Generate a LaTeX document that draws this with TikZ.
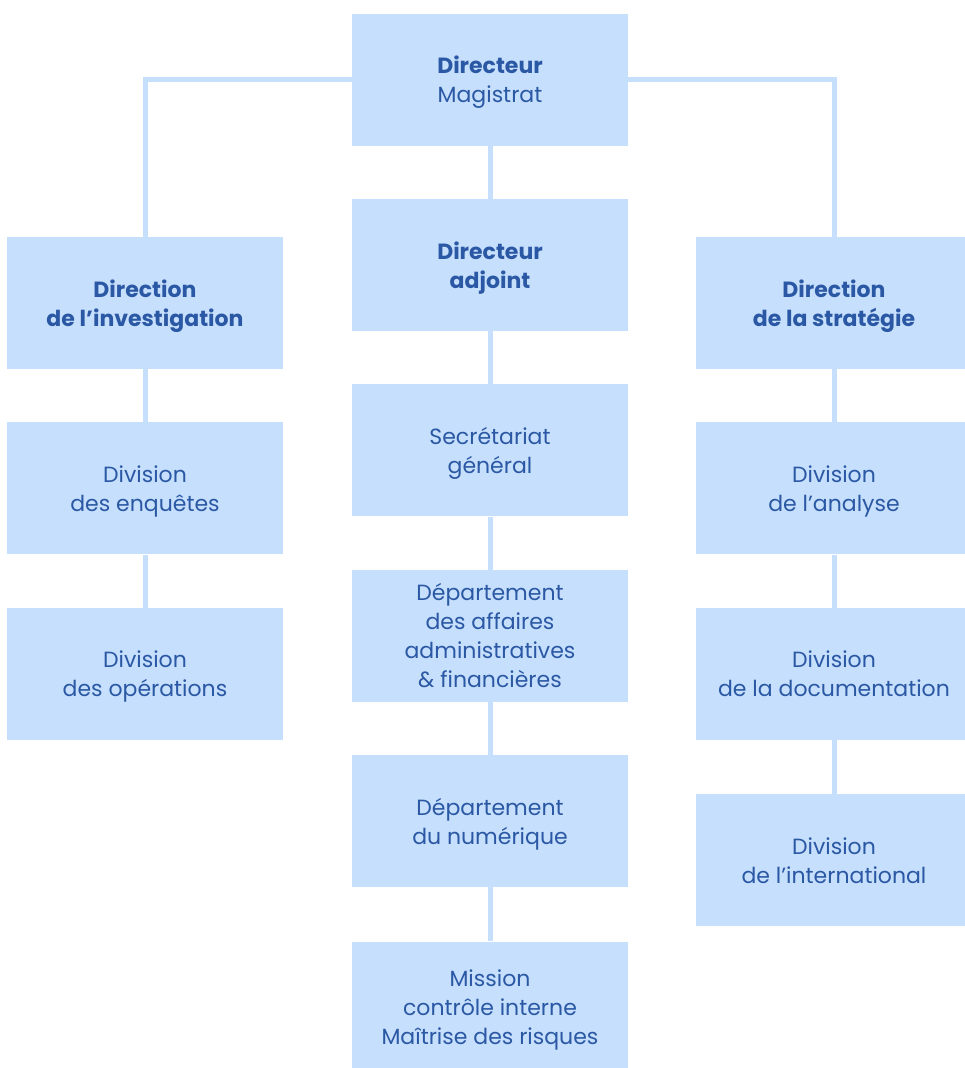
\documentclass[tikz,border=0pt]{standalone}
\usepackage{fontspec}
\setmainfont{Poppins}
\usetikzlibrary{positioning}
\definecolor{boxblue}{HTML}{C6DFFC}
\definecolor{textblue}{HTML}{2B58A4}

\begin{document}
\begin{tikzpicture}[x=1pt, y=-1pt, node distance=53pt,
  box/.style={fill=boxblue, text=textblue, minimum width=276pt, minimum height=132pt, inner sep=0pt, align=center,
    font=\fontsize{22}{29}\selectfont, text depth=-7pt},
  link/.style={draw=boxblue, line width=5pt}]
  \useasboundingbox (0,0) rectangle (964,1068);

  % Colonne centrale: Directeur, adjoint, services
  \node[box] (directeur) at (490,79.5) {\textbf{Directeur}\\Magistrat};
  \node[box, below=of directeur] (adjoint) {\textbf{Directeur}\\\textbf{adjoint}};
  \node[box, below=of adjoint] (secretariat) {Secrétariat\\général};
  \node[box, below=of secretariat] (daaf) {Département\\des affaires\\administratives\\\& financières};
  \node[box, below=of daaf] (numerique) {Département\\du numérique};
  \node[box, below=54pt of numerique] (mission) {Mission\\contrôle interne\\Maîtrise des risques};

  % Direction de l'investigation
  \node[box] (investigation) at (145,303) {\textbf{Direction}\\\textbf{de l’investigation}};
  \node[box, below=of investigation] (enquetes) {Division\\des enquêtes};
  \node[box, below=of enquetes] (operations) {Division\\des opérations};

  % Direction de la stratégie
  \node[box] (strategie) at (834,303) {\textbf{Direction}\\\textbf{de la stratégie}};
  \node[box, below=of strategie] (analyse) {Division\\de l’analyse};
  \node[box, below=of analyse] (documentation) {Division\\de la documentation};
  \node[box, below=54pt of documentation] (international) {Division\\de l’international};

  % Liaisons
  \draw[link] (investigation.north) |- (directeur.west);
  \draw[link] (directeur.east) -| (strategie.north);
  \foreach \a/\b in {directeur/adjoint, adjoint/secretariat, secretariat/daaf, daaf/numerique, numerique/mission,
    investigation/enquetes, enquetes/operations,
    strategie/analyse, analyse/documentation, documentation/international}
    \draw[link] (\a) -- (\b);
\end{tikzpicture}
\end{document}
